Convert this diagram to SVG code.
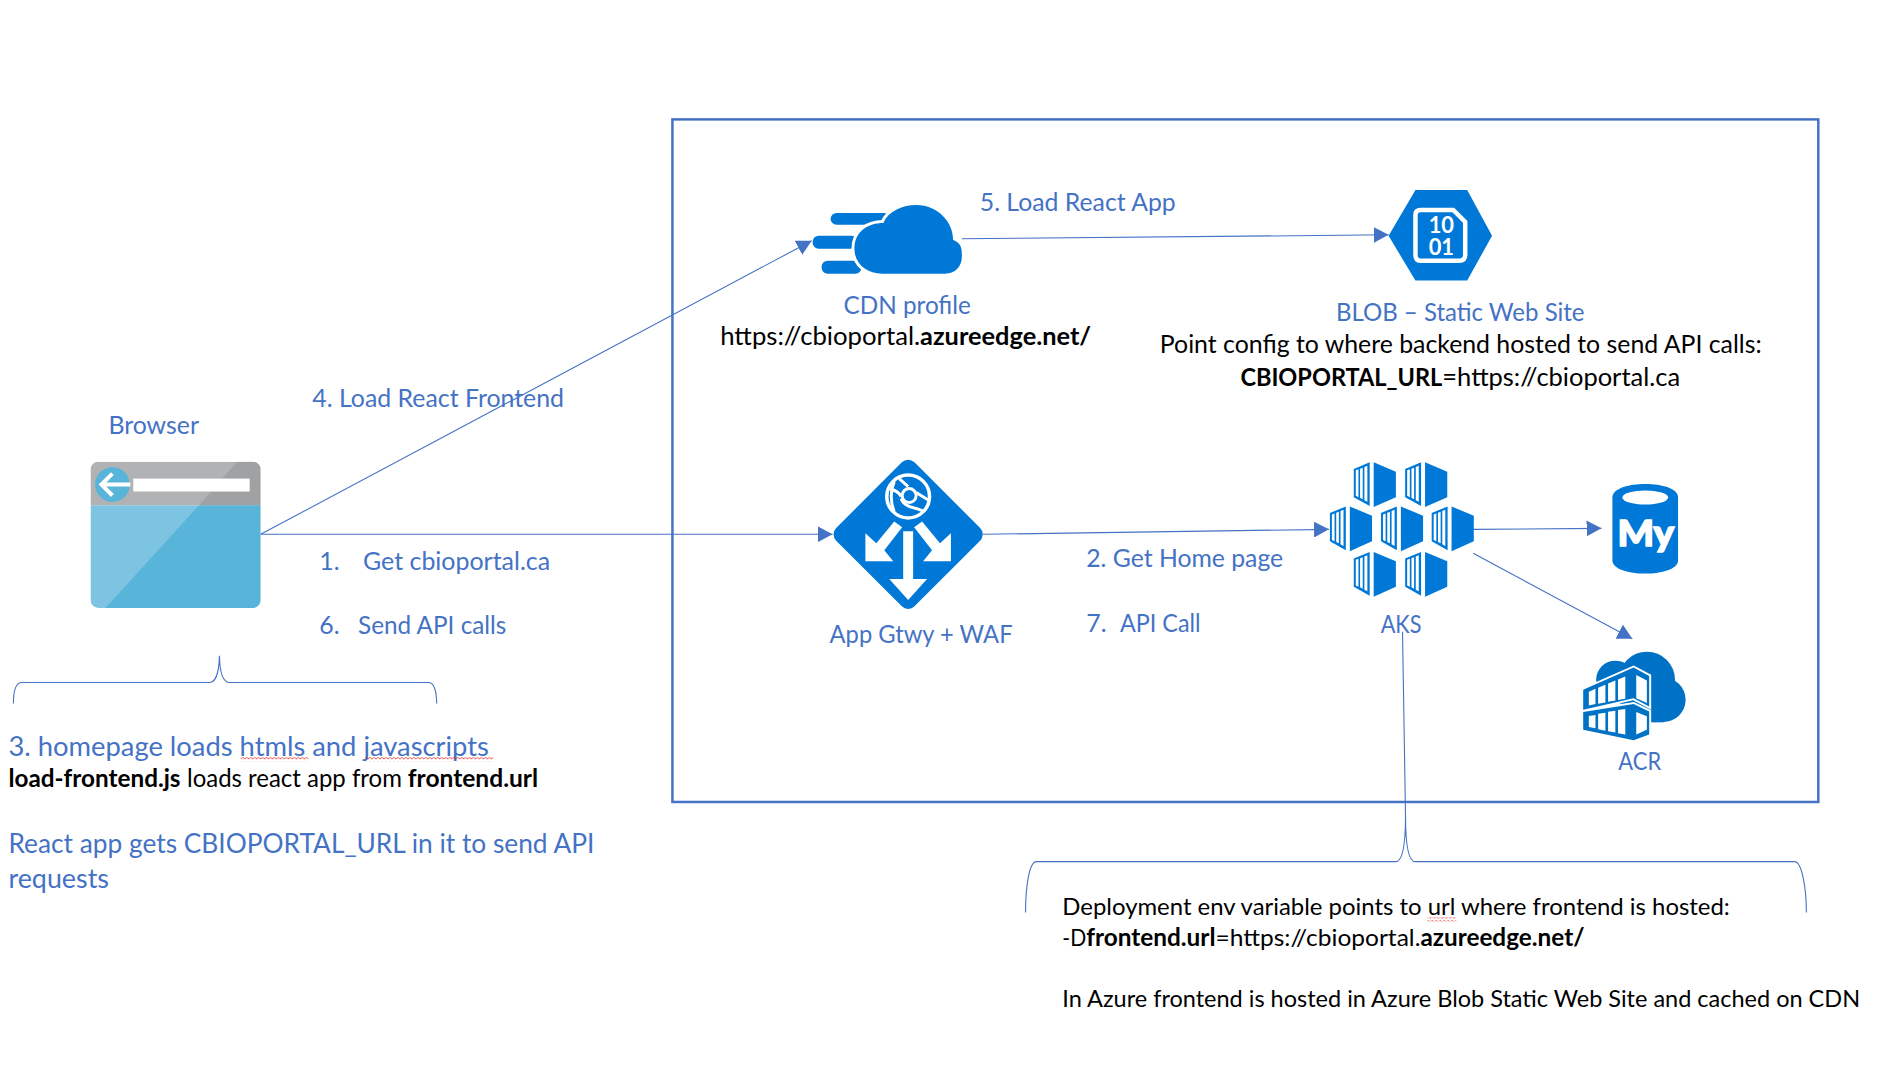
<svg xmlns="http://www.w3.org/2000/svg" width="1891" height="1084" viewBox="0 0 1891 1084">
<style>
text{font-family:"Lato","Liberation Sans",sans-serif;font-size:25px;fill:#000}
.b{fill:#4472C4}
.xl{font-size:28px}
.n{font-size:24px}
.k{font-weight:700}
.az{fill:#0078D7}
.wire{fill:none;stroke:#4472C4;stroke-width:1.1}
.arr{marker-end:url(#tri)}
.brace{fill:none;stroke:#4472C4;stroke-width:1.1}
.ws{fill:#fff}
.wl{fill:none;stroke:#fff}
</style>
<defs>
<marker id="tri" markerUnits="userSpaceOnUse" markerWidth="16" markerHeight="16" refX="15" refY="8" orient="auto"><path d="M0 0L15 8L0 16Z" fill="#4472C4"/></marker>
<pattern id="sq" patternUnits="userSpaceOnUse" width="4" height="4"><path d="M0 1L2 3L4 1" fill="none" stroke="#E02020" stroke-width=".8"/></pattern>
<clipPath id="bclip"><rect x="91" y="464" width="171" height="147" rx="8"/></clipPath>
<g id="cube">
<path class="az" d="M48 0L0 20V105L48 132Z"/>
<path class="ws" d="M6 24L14 21V105L6 101ZM19 19L27 16V111L19 107ZM32 14L41 10V119L32 114Z"/>
<path class="az" d="M60 0L127 28V105L60 135Z"/>
</g>
</defs>
<g id="diagram" transform="scale(.9947 .995)">
<rect id="boundary" x="676" y="120" width="1152" height="686" fill="none" stroke="#4472C4" stroke-width="2.5"/>

<g id="connectors">
<line class="wire arr" x1="262" y1="537" x2="816" y2="242"/>
<line class="wire arr" x1="262" y1="537" x2="837" y2="537"/>
<line class="wire arr" x1="967" y1="240" x2="1396" y2="236"/>
<line class="wire arr" x1="988" y1="537" x2="1336" y2="532"/>
<line class="wire arr" x1="1481" y1="532" x2="1610" y2="531"/>
<line class="wire arr" x1="1481" y1="556" x2="1641" y2="642"/>
<path class="brace" d="M13.5 707C13.5 697 15 686 22 686L210 686C216 686 220 680 220.6 659C221 680 225 686 231 686L431 686C437 686 439 697 439 707"/>
<path class="brace" d="M1031 917C1031 895 1034 866 1042 866L1403 866C1410 866 1413 850 1413 820L1410 635M1413 820C1413 850 1416 866 1423 866L1804 866C1812 866 1816 895 1816 917"/>
</g>

<g id="browser">
<g clip-path="url(#bclip)">
<rect x="91" y="464" width="171" height="44" fill="#B1B2B4"/>
<path d="M238 464H262V508H200Z" fill="#A0A1A2"/>
<rect x="91" y="508" width="171" height="103" fill="#7CC4E2"/>
<path d="M200 508H262V611H106Z" fill="#59B4D9"/>
</g>
<circle cx="113" cy="487" r="17.5" fill="#59B4D9"/>
<path class="wl" stroke-width="4" d="M131 487H103M113 476L102 487L113 498"/>
<rect class="ws" x="134" y="481" width="117" height="13"/>
<text class="b" x="109" y="436" textLength="91" lengthAdjust="spacingAndGlyphs">Browser</text>
</g>

<g id="cdn">
<g class="az">
<rect x="835" y="214" width="60" height="12" rx="6"/>
<rect x="817" y="237" width="45" height="13" rx="6"/>
<rect x="826" y="262" width="40" height="13" rx="6"/>
</g>
<path d="M859 250C859 232 873 224 888 224C893 212 908 206 921 206C945 206 959 226 958 241C967 245 967 250 967 258C967 268 960 275 950 275H887C871 275 859 265 859 250Z" class="az" stroke="#fff" stroke-width="6" paint-order="stroke"/>
<text class="b" x="848" y="316" textLength="128" lengthAdjust="spacingAndGlyphs">CDN profile</text>
<text y="347"><tspan x="724" textLength="201" lengthAdjust="spacingAndGlyphs">https://cbioportal.</tspan><tspan class="k" x="925" textLength="172" lengthAdjust="spacingAndGlyphs">azureedge.net/</tspan></text>
</g>

<g id="blob">
<path class="az" d="M1423 191H1475L1500 237L1475 282H1423L1396 237Z"/>
<path class="wl" stroke-width="4.5" d="M1428 211H1461L1473 223V256Q1473 262 1467 262H1428Q1423 262 1423 256V216Q1423 211 1428 211Z"/>
<text text-anchor="middle" class="k" style="fill:#fff;font-size:22px"><tspan x="1449" y="234">10</tspan><tspan x="1449" y="256">01</tspan></text>
<text class="b" x="1343" y="323" textLength="250" lengthAdjust="spacingAndGlyphs">BLOB – Static Web Site</text>
<text x="1166" y="355" textLength="605" lengthAdjust="spacingAndGlyphs">Point config to where backend hosted to send API calls:</text>
<text y="388"><tspan class="k" x="1247" textLength="203" lengthAdjust="spacingAndGlyphs">CBIOPORTAL_URL</tspan><tspan x="1450" textLength="239" lengthAdjust="spacingAndGlyphs">=https://cbioportal.ca</tspan></text>
</g>

<g id="gateway">
<g transform="translate(913 537)">
<path d="M0 -66L66 0L0 66L-66 0Z" class="az" stroke="#0078D7" stroke-width="18" stroke-linejoin="round"/>
<circle cy="-38" r="21.5" class="wl" stroke-width="3.5"/>
<path class="wl" stroke-width="3" d="M-14 -53C-18 -44 -18 -32 -14 -23M-19 -46C-12 -44 -9 -42 -7 -38M-9 -56L0 -48M8 -42L21 -34M-7 -36C-5 -30 0 -28 8 -26L16 -23"/>
<circle cx="1" cy="-39" r="7" class="wl" stroke-width="3"/>
<path class="ws" d="M-5 -3H5V45H19L0 66L-19 45H-5Z"/>
<path class="ws" d="M-43 -1L-32 9L-14 -13L-6 -7L-24 16L-15 27H-43Z"/>
<path class="ws" d="M43 -1L32 9L14 -13L6 -7L24 16L15 27H43Z"/>
</g>
<text class="b" x="834" y="646" textLength="184" lengthAdjust="spacingAndGlyphs">App Gtwy + WAF</text>
</g>

<g id="aks">
<g transform="translate(1307 443) scale(.3333)">
<use href="#cube" x="162" y="65"/>
<use href="#cube" x="317" y="65"/>
<use href="#cube" x="90" y="198"/>
<use href="#cube" x="244" y="198"/>
<use href="#cube" x="397" y="198"/>
<use href="#cube" x="162" y="335"/>
<use href="#cube" x="317" y="335"/>
</g>
<text class="b" x="1388" y="636" textLength="41" lengthAdjust="spacingAndGlyphs">AKS</text>
</g>

<g id="mysql">
<path class="az" d="M1621 500C1621 482 1687 482 1687 500V563C1687 581 1621 581 1621 563Z"/>
<ellipse class="ws" cx="1654" cy="500" rx="23" ry="7"/>
<text x="1626" y="549" textLength="57" lengthAdjust="spacingAndGlyphs" style="fill:#fff;stroke:#fff;stroke-width:1.5;font-size:36px;font-weight:900">My</text>
</g>

<g id="acr">
<g transform="translate(1309 445) scale(.3333)">
<g fill="#0072C6">
<circle cx="1040" cy="715" r="85"/>
<circle cx="945" cy="715" r="58"/>
<circle cx="1090" cy="775" r="67"/>
<rect x="960" y="720" width="130" height="123"/>
</g>
<path fill="#0072C6" stroke="#fff" stroke-width="12" paint-order="stroke" d="M848 745L1000 678L1047 703V795L1000 770L848 805ZM848 812L1000 788L1047 810V880L1000 897L848 865Z"/>
<path class="ws" d="M865 751L885 742V788L865 792ZM893 739L915 730V783L893 787ZM923 726L945 717V777L923 781ZM953 714L975 705V772L953 776ZM1008 700L1040 717V785L1008 770ZM865 824L885 821V861L865 857ZM893 817L915 814V868L893 864ZM923 811L945 808V874L923 870ZM953 806L975 803V880L953 876ZM1008 812L1040 825V865L1008 880Z"/>
</g>
<text class="b" x="1627" y="774" textLength="43" lengthAdjust="spacingAndGlyphs">ACR</text>
</g>

<g id="labels">
<text class="b" x="314" y="409" textLength="253" lengthAdjust="spacingAndGlyphs">4. Load React Frontend</text>
<text class="b" x="321" y="573">1.<tspan x="365" textLength="188" lengthAdjust="spacingAndGlyphs">Get cbioportal.ca</tspan></text>
<text class="b" x="321" y="637">6.<tspan x="360" textLength="149" lengthAdjust="spacingAndGlyphs">Send API calls</tspan></text>
<text class="b" x="985" y="212" textLength="197" lengthAdjust="spacingAndGlyphs">5. Load React App</text>
<text class="b" x="1092" y="570" textLength="198" lengthAdjust="spacingAndGlyphs">2. Get Home page</text>
<text class="b" x="1092" y="635">7.<tspan x="1126" textLength="81" lengthAdjust="spacingAndGlyphs">API Call</tspan></text>
</g>

<g id="note-left">
<text class="b xl" x="8.5" y="760" textLength="483" lengthAdjust="spacingAndGlyphs">3. homepage loads htmls and javascripts</text>
<rect x="242" y="761" width="68" height="4" fill="url(#sq)"/>
<rect x="367" y="761" width="129" height="4" fill="url(#sq)"/>
<text y="791"><tspan class="k" x="8.5" textLength="173" lengthAdjust="spacingAndGlyphs">load-frontend.js</tspan><tspan x="188" textLength="216" lengthAdjust="spacingAndGlyphs">loads react app from</tspan><tspan class="k" x="410" textLength="131" lengthAdjust="spacingAndGlyphs">frontend.url</tspan></text>
<text class="b xl" x="8.5" y="857" textLength="589" lengthAdjust="spacingAndGlyphs">React app gets CBIOPORTAL_URL in it to send API</text>
<text class="b xl" x="8.5" y="892" textLength="101" lengthAdjust="spacingAndGlyphs">requests</text>
</g>

<g id="note-right">
<text class="n" x="1068" y="920" textLength="671" lengthAdjust="spacingAndGlyphs">Deployment env variable points to url where frontend is hosted:</text>
<rect x="1435" y="922" width="29" height="4" fill="url(#sq)"/>
<text class="n" y="951"><tspan x="1068" textLength="24" lengthAdjust="spacingAndGlyphs">-D</tspan><tspan class="k" x="1092" textLength="130" lengthAdjust="spacingAndGlyphs">frontend.url</tspan><tspan x="1222" textLength="206" lengthAdjust="spacingAndGlyphs">=https://cbioportal.</tspan><tspan class="k" x="1428" textLength="165" lengthAdjust="spacingAndGlyphs">azureedge.net/</tspan></text>
<text x="1068" y="1012" textLength="802" lengthAdjust="spacingAndGlyphs" style="font-size:23.5px">In Azure frontend is hosted in Azure Blob Static Web Site and cached on CDN</text>
</g>
</g>
</svg>
